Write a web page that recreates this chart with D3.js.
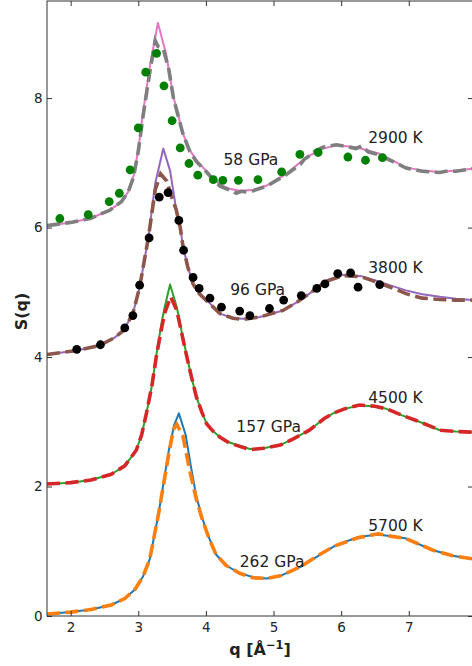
<!DOCTYPE html>
<html>
<head>
<meta charset="utf-8">
<script src="https://cdn.jsdelivr.net/npm/d3@7"></script>
<style>
  body { margin: 0; background: #fff; }
  svg { display: block; }
  text { font-family: "DejaVu Sans", sans-serif; fill: #222; }
</style>
</head>
<body>
<svg id="chart" width="472" height="666"></svg>
<script>
// Structure factors S(q), each curve stored without its vertical offset: [q, S]
const sim262 = [[1.65,0.03],[2.0,0.06],[2.3,0.10],[2.6,0.17],[2.8,0.27],[2.95,0.41],[3.07,0.61],[3.17,0.88],[3.3,1.58],[3.45,2.55],[3.53,2.95],[3.6,3.13],[3.7,2.80],[3.78,2.30],[3.86,1.84],[3.95,1.50],[4.05,1.20],[4.15,0.95],[4.3,0.78],[4.5,0.66],[4.7,0.60],[4.9,0.58],[5.1,0.62],[5.4,0.76],[5.65,0.92],[5.9,1.08],[6.25,1.22],[6.55,1.26],[6.95,1.20],[7.35,1.02],[7.65,0.93],[7.95,0.88]];
const ref262 = [[1.65,0.03],[2.0,0.06],[2.3,0.10],[2.6,0.17],[2.8,0.27],[2.95,0.41],[3.07,0.61],[3.17,0.88],[3.3,1.58],[3.45,2.50],[3.52,2.88],[3.57,2.96],[3.66,2.78],[3.76,2.25],[3.86,1.80],[3.95,1.48],[4.05,1.19],[4.15,0.95],[4.3,0.78],[4.5,0.66],[4.7,0.59],[4.9,0.58],[5.1,0.62],[5.4,0.76],[5.65,0.93],[5.9,1.08],[6.25,1.21],[6.55,1.27],[6.75,1.23],[6.95,1.20],[7.35,1.02],[7.65,0.93],[7.95,0.88]];

const sim157 = [[1.65,0.04],[2.0,0.06],[2.3,0.10],[2.6,0.19],[2.8,0.32],[2.97,0.56],[3.05,0.80],[3.12,1.13],[3.2,1.55],[3.27,2.05],[3.34,2.50],[3.39,2.77],[3.47,3.12],[3.57,2.77],[3.64,2.40],[3.71,2.05],[3.78,1.72],[3.86,1.38],[3.94,1.15],[4.01,0.97],[4.1,0.86],[4.21,0.76],[4.35,0.68],[4.5,0.63],[4.65,0.58],[4.85,0.59],[5.1,0.64],[5.3,0.74],[5.53,0.87],[5.75,1.05],[5.88,1.13],[6.05,1.20],[6.27,1.25],[6.5,1.24],[6.67,1.20],[6.9,1.10],[7.11,1.02],[7.3,0.94],[7.46,0.87],[7.7,0.85],[7.95,0.84]];
const ref157 = [[1.65,0.04],[2.0,0.06],[2.3,0.10],[2.6,0.19],[2.8,0.32],[2.97,0.56],[3.05,0.80],[3.12,1.13],[3.2,1.55],[3.27,2.03],[3.34,2.42],[3.39,2.68],[3.48,2.93],[3.57,2.72],[3.64,2.38],[3.71,2.04],[3.78,1.72],[3.86,1.38],[3.94,1.15],[4.01,0.97],[4.1,0.86],[4.21,0.76],[4.35,0.67],[4.5,0.62],[4.65,0.57],[4.85,0.59],[5.1,0.64],[5.3,0.74],[5.53,0.87],[5.75,1.05],[5.88,1.13],[6.05,1.20],[6.27,1.26],[6.5,1.24],[6.67,1.20],[6.9,1.10],[7.11,1.02],[7.3,0.94],[7.46,0.87],[7.7,0.85],[7.95,0.84]];

const sim96 = [[1.65,0.04],[2.09,0.10],[2.43,0.18],[2.65,0.30],[2.78,0.41],[2.92,0.67],[3.02,1.08],[3.15,1.85],[3.25,2.68],[3.37,3.22],[3.47,2.88],[3.55,2.35],[3.62,2.00],[3.66,1.72],[3.73,1.40],[3.81,1.13],[3.9,0.98],[4.01,0.88],[4.21,0.67],[4.4,0.60],[4.55,0.59],[4.8,0.62],[5.14,0.72],[5.35,0.85],[5.53,0.98],[5.78,1.18],[6.03,1.27],[6.3,1.25],[6.52,1.18],[6.75,1.10],[6.96,1.03],[7.2,0.97],[7.46,0.93],[7.7,0.90],[7.95,0.88]];
const ref96 = [[1.65,0.04],[2.09,0.10],[2.43,0.18],[2.65,0.30],[2.78,0.41],[2.92,0.67],[3.02,1.08],[3.15,1.85],[3.25,2.58],[3.33,2.83],[3.42,2.72],[3.5,2.45],[3.56,2.28],[3.62,2.00],[3.66,1.72],[3.73,1.40],[3.81,1.13],[3.9,0.98],[4.01,0.87],[4.21,0.67],[4.4,0.60],[4.55,0.58],[4.8,0.62],[5.14,0.72],[5.35,0.85],[5.53,0.98],[5.78,1.17],[6.03,1.26],[6.3,1.24],[6.52,1.16],[6.75,1.07],[6.96,0.98],[7.2,0.91],[7.46,0.89],[7.7,0.88],[7.95,0.88]];
const expt96 = [[2.09,0.12],[2.44,0.19],[2.80,0.45],[2.92,0.64],[3.02,1.11],[3.16,1.84],[3.31,2.47],[3.44,2.54],[3.60,2.11],[3.67,1.65],[3.81,1.23],[3.90,1.06],[4.06,0.91],[4.23,0.77],[4.50,0.71],[4.65,0.64],[4.94,0.75],[5.15,0.88],[5.41,0.95],[5.64,1.06],[5.76,1.13],[5.95,1.29],[6.14,1.30],[6.25,1.08],[6.57,1.12]];

const sim58 = [[1.65,0.03],[2.0,0.08],[2.29,0.14],[2.58,0.27],[2.75,0.40],[2.85,0.55],[2.93,0.80],[3.0,1.20],[3.07,1.78],[3.17,2.48],[3.29,3.16],[3.41,2.69],[3.52,2.02],[3.66,1.45],[3.76,1.20],[3.86,1.04],[4.0,0.88],[4.11,0.76],[4.21,0.66],[4.35,0.60],[4.5,0.57],[4.7,0.58],[4.9,0.65],[5.19,0.83],[5.49,1.09],[5.73,1.22],[5.93,1.27],[6.22,1.24],[6.57,1.14],[6.96,0.93],[7.2,0.88],[7.46,0.86],[7.7,0.88],[7.95,0.91]];
const ref58 = [[1.65,0.03],[2.0,0.08],[2.29,0.14],[2.58,0.27],[2.75,0.40],[2.85,0.55],[2.93,0.78],[3.0,1.18],[3.07,1.72],[3.17,2.40],[3.25,2.89],[3.29,2.80],[3.37,2.76],[3.45,2.45],[3.52,2.00],[3.66,1.45],[3.76,1.18],[3.86,1.02],[4.0,0.87],[4.11,0.74],[4.21,0.64],[4.35,0.58],[4.45,0.53],[4.52,0.56],[4.6,0.55],[4.7,0.57],[4.9,0.64],[5.19,0.82],[5.4,0.98],[5.45,1.05],[5.55,1.12],[5.6,1.17],[5.73,1.24],[5.93,1.28],[6.1,1.25],[6.22,1.22],[6.3,1.26],[6.4,1.17],[6.57,1.12],[6.96,0.92],[7.2,0.87],[7.46,0.85],[7.55,0.87],[7.7,0.87],[7.95,0.91]];
const expt58 = [[1.84,0.14],[2.26,0.20],[2.57,0.40],[2.72,0.53],[2.88,0.89],[3.00,1.54],[3.11,2.40],[3.27,2.69],[3.38,2.19],[3.50,1.65],[3.62,1.23],[3.75,0.99],[3.88,0.81],[4.11,0.74],[4.25,0.73],[4.48,0.73],[4.77,0.74],[5.12,0.86],[5.39,1.13],[5.66,1.16],[6.10,1.09],[6.36,1.04],[6.61,1.08]];

// Vertical offsets of the stacked curves and their state labels
const offsets = [0, 2, 4, 6];
const pressureLabels = ["262 GPa", "157 GPa", "96 GPa", "58 GPa"];
const temperatureLabels = ["5700 K", "4500 K", "3800 K", "2900 K"];

// Axis ticks
const xTicks = [2, 3, 4, 5, 6, 7];
const yTicks = [0, 2, 4, 6, 8];

// Label anchors in data units [q, S]
const pressureAnchors = [[4.50, 0.76], [4.45, 2.85], [4.36, 4.96], [4.26, 6.97]];
const temperatureAnchors = [[6.40, 1.31], [6.40, 3.29], [6.40, 5.30], [6.40, 7.31]];

const svg = d3.select("#chart");
const frame = { left: 47, right: 473, top: 1, bottom: 616 };

const x = d3.scaleLinear().domain([1.65, 7.95]).range([frame.left, frame.right]);
const y = d3.scaleLinear().domain([0, 9.5]).range([frame.bottom, frame.top]);

svg.append("defs").append("clipPath").attr("id", "plotClip")
  .append("rect").attr("x", frame.left).attr("y", frame.top)
  .attr("width", frame.right - frame.left).attr("height", frame.bottom - frame.top);

const plot = svg.append("g").attr("clip-path", "url(#plotClip)");

const groups = [
  { sim: sim262, ref: ref262, expt: null,   off: offsets[0], simColor: "#1f77b4", refColor: "#ff7f0e", dotColor: null },
  { sim: sim157, ref: ref157, expt: null,   off: offsets[1], simColor: "#2ca02c", refColor: "#d62728", dotColor: null },
  { sim: sim96,  ref: ref96,  expt: expt96, off: offsets[2], simColor: "#9467bd", refColor: "#8c564b", dotColor: "#000000" },
  { sim: sim58,  ref: ref58,  expt: expt58, off: offsets[3], simColor: "#e377c2", refColor: "#7f7f7f", dotColor: "#008000" }
];

groups.forEach(g => {
  const line = d3.line().x(d => x(d[0])).y(d => y(d[1] + g.off));
  plot.append("path").datum(g.sim)
    .attr("d", line).attr("fill", "none")
    .attr("stroke", g.simColor).attr("stroke-width", 2)
    .attr("stroke-linejoin", "round");
  plot.append("path").datum(g.ref)
    .attr("d", line).attr("fill", "none")
    .attr("stroke", g.refColor).attr("stroke-width", 3.6)
    .attr("stroke-dasharray", "13,5.5");
  if (g.expt) {
    plot.append("g").selectAll("circle").data(g.expt).join("circle")
      .attr("cx", d => x(d[0])).attr("cy", d => y(d[1] + g.off))
      .attr("r", 4.4).attr("fill", g.dotColor);
  }
});

// State labels
const labels = svg.append("g").attr("font-size", 15.5);
pressureLabels.forEach((t, i) => {
  labels.append("text").attr("x", x(pressureAnchors[i][0])).attr("y", y(pressureAnchors[i][1])).text(t);
});
temperatureLabels.forEach((t, i) => {
  labels.append("text").attr("x", x(temperatureAnchors[i][0])).attr("y", y(temperatureAnchors[i][1])).text(t);
});

// Axes with inward ticks on all four sides
function styleAxis(g) {
  g.select(".domain").remove();
  g.selectAll(".tick line").attr("stroke", "#333").attr("stroke-width", 1);
  g.selectAll(".tick text").attr("font-size", 13.5).attr("fill", "#222")
    .attr("font-family", "DejaVu Sans, sans-serif");
}
svg.append("g").attr("transform", `translate(0,${frame.bottom})`)
  .call(d3.axisBottom(x).tickValues(xTicks).tickFormat(d3.format("d")).tickSizeInner(-5).tickSizeOuter(0).tickPadding(6))
  .call(styleAxis);
svg.append("g").attr("transform", `translate(0,${frame.top})`)
  .call(d3.axisTop(x).tickValues(xTicks).tickFormat("").tickSizeInner(-5).tickSizeOuter(0))
  .call(styleAxis);
svg.append("g").attr("transform", `translate(${frame.left},0)`)
  .call(d3.axisLeft(y).tickValues(yTicks).tickFormat(d3.format("d")).tickSizeInner(-5).tickSizeOuter(0).tickPadding(4.5))
  .call(styleAxis);
svg.append("g").attr("transform", `translate(${frame.right},0)`)
  .call(d3.axisRight(y).tickValues(yTicks).tickFormat("").tickSizeInner(-5).tickSizeOuter(0))
  .call(styleAxis);

// Frame
svg.append("rect").attr("x", frame.left).attr("y", frame.top)
  .attr("width", frame.right - frame.left).attr("height", frame.bottom - frame.top)
  .attr("fill", "none").attr("stroke", "#333").attr("stroke-width", 1);

// Axis titles
const xt = svg.append("text").attr("x", (frame.left + frame.right) / 2).attr("y", 655)
  .attr("text-anchor", "middle").attr("font-size", 16).attr("font-weight", "bold");
xt.append("tspan").text("q [Å");
xt.append("tspan").attr("dy", -6).attr("font-size", 11.5).text("−1");
xt.append("tspan").attr("dy", 6).text("]");

svg.append("text").attr("transform", `translate(26.5,${(frame.top + frame.bottom) / 2 + 3}) rotate(-90)`)
  .attr("text-anchor", "middle").attr("font-size", 16).attr("font-weight", "bold")
  .text("S(q)");
</script>
</body>
</html>
